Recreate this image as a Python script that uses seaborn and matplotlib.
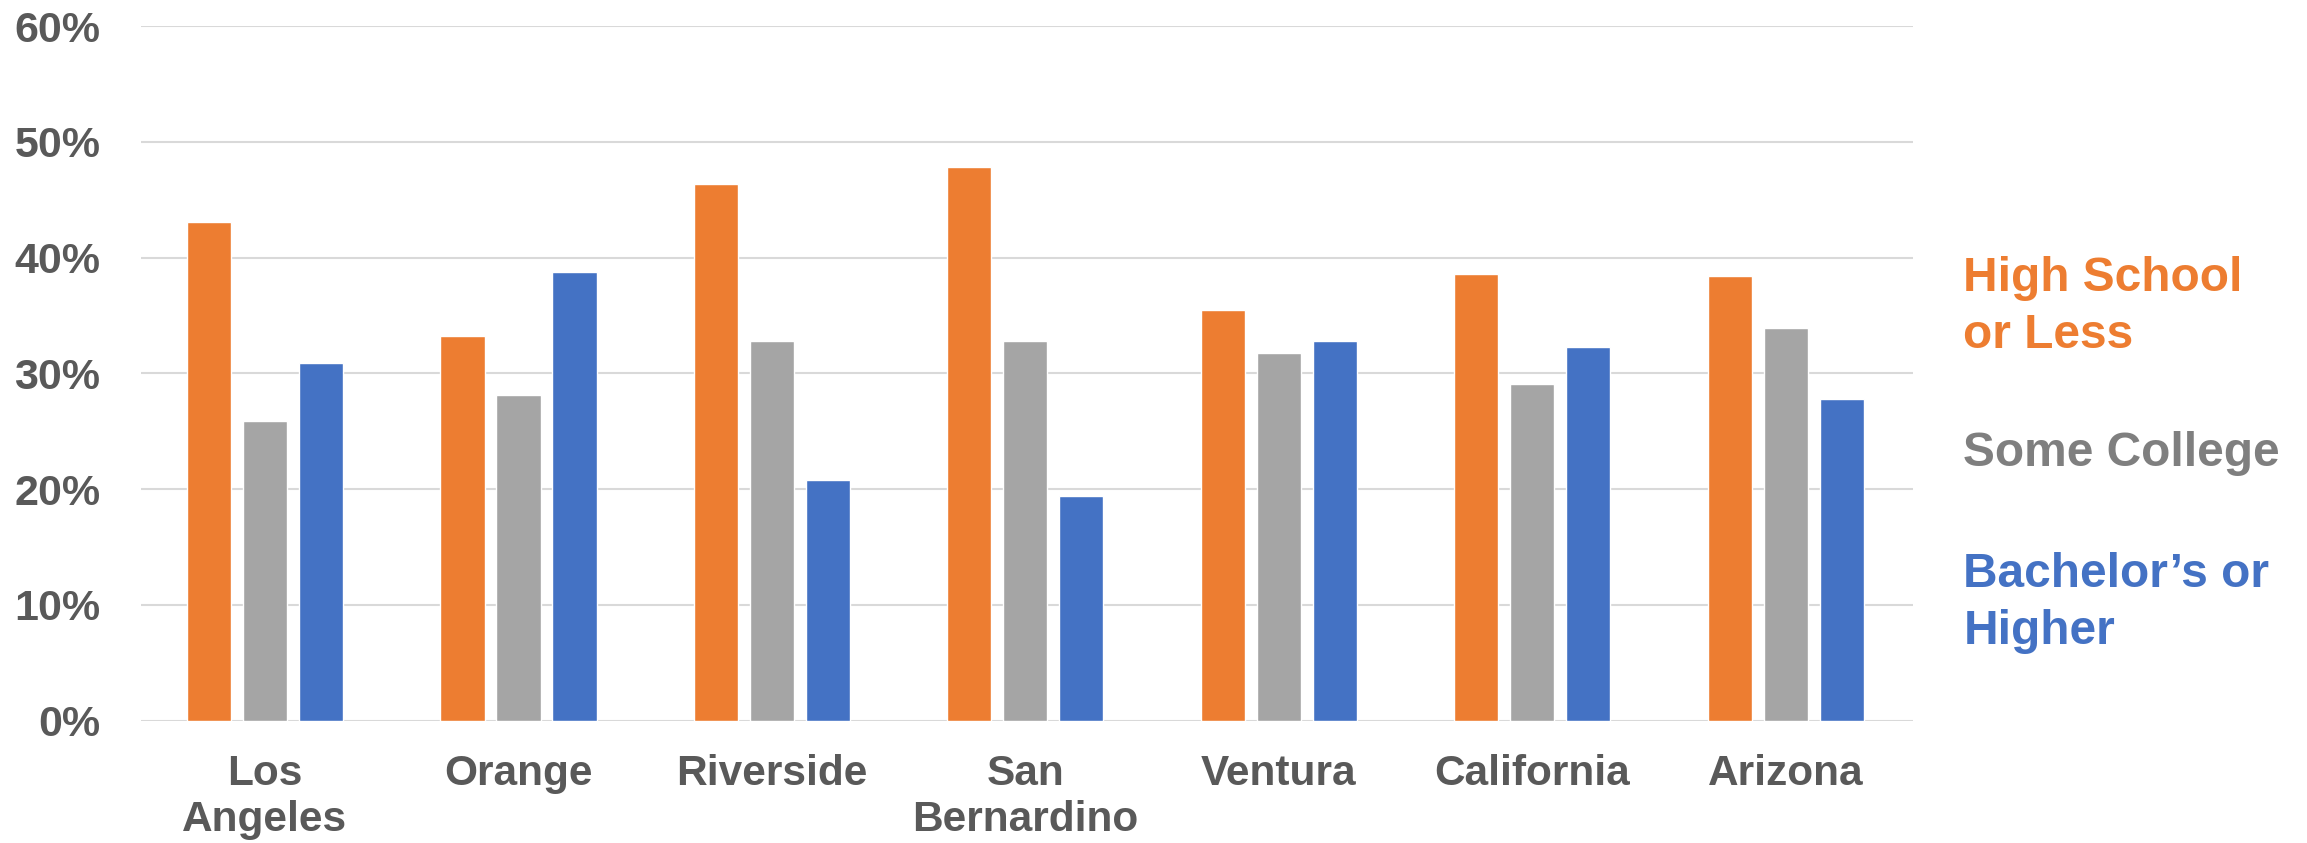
import pandas as pd
import numpy as np
import matplotlib.pyplot as plt
import seaborn as sns
from matplotlib.ticker import PercentFormatter

regions = ['Los\nAngeles', 'Orange', 'Riverside', 'San\nBernardino', 'Ventura', 'California', 'Arizona']
levels = ['High School or Less', 'Some College', "Bachelor\u2019s or Higher"]
high_school = [43.1, 33.2, 46.4, 47.8, 35.5, 38.6, 38.4]
some_college = [25.9, 28.1, 32.8, 32.8, 31.8, 29.1, 33.9]
bachelors = [30.9, 38.8, 20.8, 19.4, 32.8, 32.3, 27.8]
colors = ['#ED7D31', '#A5A5A5', '#4472C4']

df = pd.DataFrame({
    'region': regions * 3,
    'level': np.repeat(levels, len(regions)),
    'value': high_school + some_college + bachelors,
})

sns.set_style('white')
plt.rcParams['font.family'] = ['Liberation Sans', 'DejaVu Sans']

fig = plt.figure(figsize=(23.07, 8.43), dpi=100)
ax = fig.add_axes([0.061, 0.145, 0.768, 0.824])

sns.barplot(data=df, x='region', y='value', hue='level', palette=colors,
            width=0.663, gap=0.21, ax=ax, legend=False, saturation=1)

ax.set_ylim(0, 60)
ax.set_xlim(-0.49, 6.5)
ax.set_yticks(range(0, 61, 10))
ax.yaxis.set_major_formatter(PercentFormatter(decimals=0))
ax.grid(axis='y', color='#D9D9D9', linewidth=1.5)
ax.set_axisbelow(True)
for s in ax.spines.values():
    s.set_visible(False)
ax.tick_params(axis='both', length=0, labelcolor='#595959')
ax.tick_params(axis='y', pad=29)
ax.tick_params(axis='x', pad=24)
for lab in ax.get_yticklabels():
    lab.set_fontsize(31)
    lab.set_fontweight('bold')
for lab in ax.get_xticklabels():
    lab.set_fontsize(30.5)
    lab.set_fontweight('bold')
    lab.set_linespacing(1.2)
ax.set_xlabel('')
ax.set_ylabel('')

# side labels instead of a legend
fig.text(0.851, 0.636, 'High School\nor Less', color='#ED7D31', fontsize=34.5,
         fontweight='bold', va='center', ha='left', linespacing=1.35)
fig.text(0.851, 0.462, 'Some College', color='#7F7F7F', fontsize=34.5,
         fontweight='bold', va='center', ha='left')
fig.text(0.851, 0.285, "Bachelor\u2019s or\nHigher", color='#4472C4', fontsize=34.5,
         fontweight='bold', va='center', ha='left', linespacing=1.35)

fig.savefig('out.png', dpi=100)
